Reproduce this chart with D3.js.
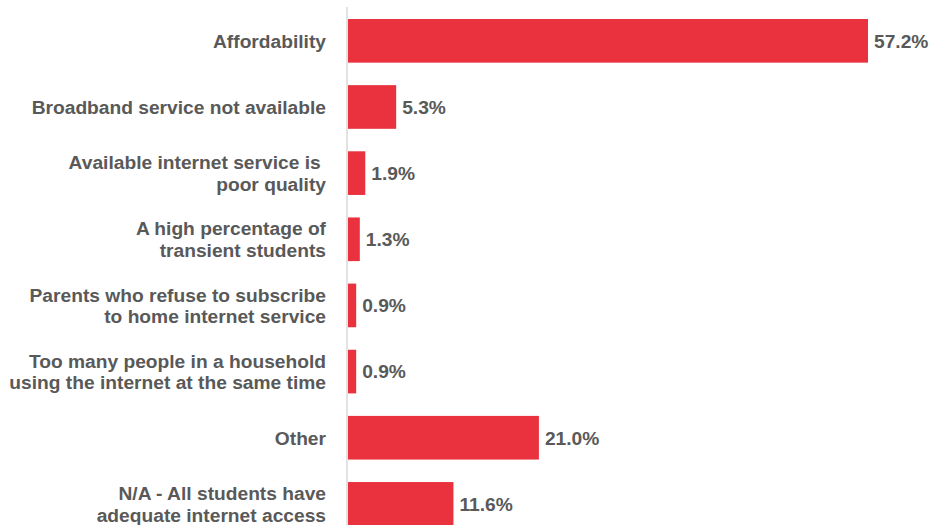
<!DOCTYPE html>
<html>
<head>
<meta charset="utf-8">
<script src="https://cdn.jsdelivr.net/npm/d3@7"></script>
<style>
  html, body { margin: 0; padding: 0; background: #fff; }
  svg { display: block; }
  text { font-family: "Liberation Sans", Arial, sans-serif; font-weight: bold; fill: #595959; white-space: pre; }
</style>
</head>
<body>
<svg id="chart" width="930" height="525"></svg>
<script>
const categories = [
  ["Affordability"],
  ["Broadband service not available"],
  ["Available internet service is ", "poor quality"],
  ["A high percentage of", "transient students"],
  ["Parents who refuse to subscribe", "to home internet service"],
  ["Too many people in a household", "using the internet at the same time"],
  ["Other"],
  ["N/A - All students have", "adequate internet access"]
];
const values = [57.2, 5.3, 1.9, 1.3, 0.9, 0.9, 21.0, 11.6];
const valueLabels = ["57.2%", "5.3%", "1.9%", "1.3%", "0.9%", "0.9%", "21.0%", "11.6%"];

const svg = d3.select("#chart");
const idx = d3.range(values.length);

const x = d3.scaleLinear().domain([0, 57.2]).range([348, 868]);
const y = d3.scaleBand().domain(idx).range([19, 525.7]).paddingInner(0.34).paddingOuter(0);

// axis line
svg.append("line")
  .attr("x1", 347).attr("x2", 347)
  .attr("y1", 7).attr("y2", 525)
  .attr("stroke", "#d9d9d9").attr("stroke-width", 1.5);

// bars
svg.selectAll("rect.bar").data(idx).join("rect")
  .attr("class", "bar")
  .attr("x", x(0))
  .attr("y", i => y(i))
  .attr("width", i => x(values[i]) - x(0))
  .attr("height", y.bandwidth())
  .attr("fill", "#E9323E");

const fs = 19.2;
const lh = 21.5;

// value labels
svg.selectAll("text.val").data(idx).join("text")
  .attr("class", "val")
  .attr("x", i => x(values[i]) + 6)
  .attr("y", i => y(i) + y.bandwidth() / 2)
  .attr("dy", "0.36em")
  .attr("font-size", fs)
  .text(i => valueLabels[i]);

// category labels
const cat = svg.selectAll("text.cat").data(idx).join("text")
  .attr("class", "cat")
  .attr("text-anchor", "end")
  .attr("font-size", fs);
cat.each(function(i) {
  const lines = categories[i];
  const cy = y(i) + y.bandwidth() / 2;
  const t = d3.select(this);
  lines.forEach((ln, k) => {
    t.append("tspan")
      .attr("x", 326)
      .attr("y", cy + (k - (lines.length - 1) / 2) * lh)
      .attr("dy", "0.36em")
      .text(ln);
  });
});
</script>
</body>
</html>
